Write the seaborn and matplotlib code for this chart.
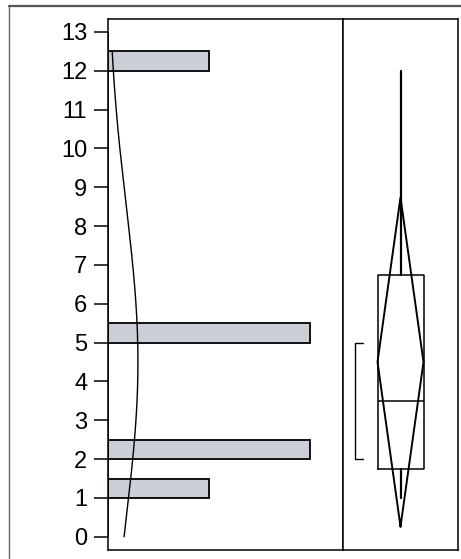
import numpy as np
import pandas as pd
import matplotlib
matplotlib.use("Agg")
import matplotlib.pyplot as plt
from matplotlib.lines import Line2D
import seaborn as sns

# Observed values
values = [1.0, 2.0, 2.0, 5.0, 5.0, 12.0]
y_ticks = list(range(0, 14))
bin_width = 0.5

sns.set_style("white")
plt.rcParams["font.family"] = ["Liberation Sans", "DejaVu Sans"]

df = pd.DataFrame({"value": values})
n = len(values)
mean = float(np.mean(values))
sd = float(np.std(values, ddof=1))

W, H = 461, 559
fig = plt.figure(figsize=(W / 100, H / 100), dpi=100)

left, div, right = 108 / W, 343 / W, 458 / W
bottom, top = 1 - 550 / H, 1 - 19 / H
ax_h = fig.add_axes([left, bottom, div - left, top - bottom])
ax_b = fig.add_axes([div, bottom, right - div, top - bottom], sharey=ax_h)

ylim = (-0.34, 13.33)

# Histogram (horizontal)
sns.histplot(data=df, y="value", binwidth=bin_width, binrange=(0, 13),
             color="#cbcfd5", edgecolor="black", linewidth=1.3, alpha=1,
             ax=ax_h)

# Fitted normal density, scaled to counts
grid = np.linspace(0, 12.5, 200)
dens = n * bin_width * np.exp(-0.5 * ((grid - mean) / sd) ** 2) / (sd * np.sqrt(2 * np.pi))
curve = pd.DataFrame({"count": dens, "value": grid})
sns.lineplot(data=curve, x="count", y="value", sort=False, orient="y",
             color="black", linewidth=1.0, ax=ax_h)

ax_h.set_xlim(0, 2.327)
ax_h.set_ylim(*ylim)
ax_h.set_yticks(y_ticks)
ax_h.set_xticks([])
ax_h.set_xlabel("")
ax_h.set_ylabel("")
ax_h.tick_params(axis="y", left=True, length=10, width=1.1, pad=5,
                 labelsize=17, color="black", labelcolor="black")

# Outlier box plot with quantiles at (n+1)p
q1, med, q3 = np.quantile(values, [0.25, 0.5, 0.75], method="weibull")
iqr = q3 - q1
lo_fence, hi_fence = q1 - 1.5 * iqr, q3 + 1.5 * iqr
inside = [v for v in values if lo_fence <= v <= hi_fence]
stats = [dict(med=med, q1=q1, q3=q3, whislo=min(inside), whishi=max(inside),
              fliers=[v for v in values if v not in inside])]
cx, hw = 0.5, 0.2
ax_b.bxp(stats, positions=[cx], widths=2 * hw, showcaps=False,
         boxprops=dict(color="black", linewidth=1.1),
         medianprops=dict(color="black", linewidth=1.1),
         whiskerprops=dict(color="black", linewidth=1.6))

# Means diamond: 95% confidence interval of the mean
t975 = 2.5706
half = t975 * sd / np.sqrt(n)
ax_b.plot([cx, cx - hw, cx, cx + hw, cx],
          [mean - half, mean, mean + half, mean, mean - half],
          color="black", linewidth=1.4)

# Shortest half bracket: densest run holding half of the observations
k = n // 2 + 1
srt = np.sort(values)
spans = [srt[i + k - 1] - srt[i] for i in range(n - k + 1)]
i0 = int(np.argmin(spans))
s_lo, s_hi = srt[i0], srt[i0 + k - 1]
ax_b.plot([0.174, 0.104, 0.104, 0.174], [s_lo, s_lo, s_hi, s_hi],
          color="black", linewidth=1.0)

ax_b.set_xlim(0, 1)
ax_b.set_ylim(*ylim)
ax_b.set_xticks([])
ax_b.tick_params(axis="y", left=False, labelleft=False)

for a in (ax_h, ax_b):
    for s in a.spines.values():
        s.set_visible(True)
        s.set_color("black")
        s.set_linewidth(1.1)

# Outer frame
fig.add_artist(Line2D([9 / W, 9 / W], [0, 1 - 6 / H], transform=fig.transFigure,
                      color="#666666", linewidth=1.0))
fig.add_artist(Line2D([9 / W, 1], [1 - 6 / H, 1 - 6 / H], transform=fig.transFigure,
                      color="#555555", linewidth=1.6))

fig.savefig("out.png", dpi=100)
